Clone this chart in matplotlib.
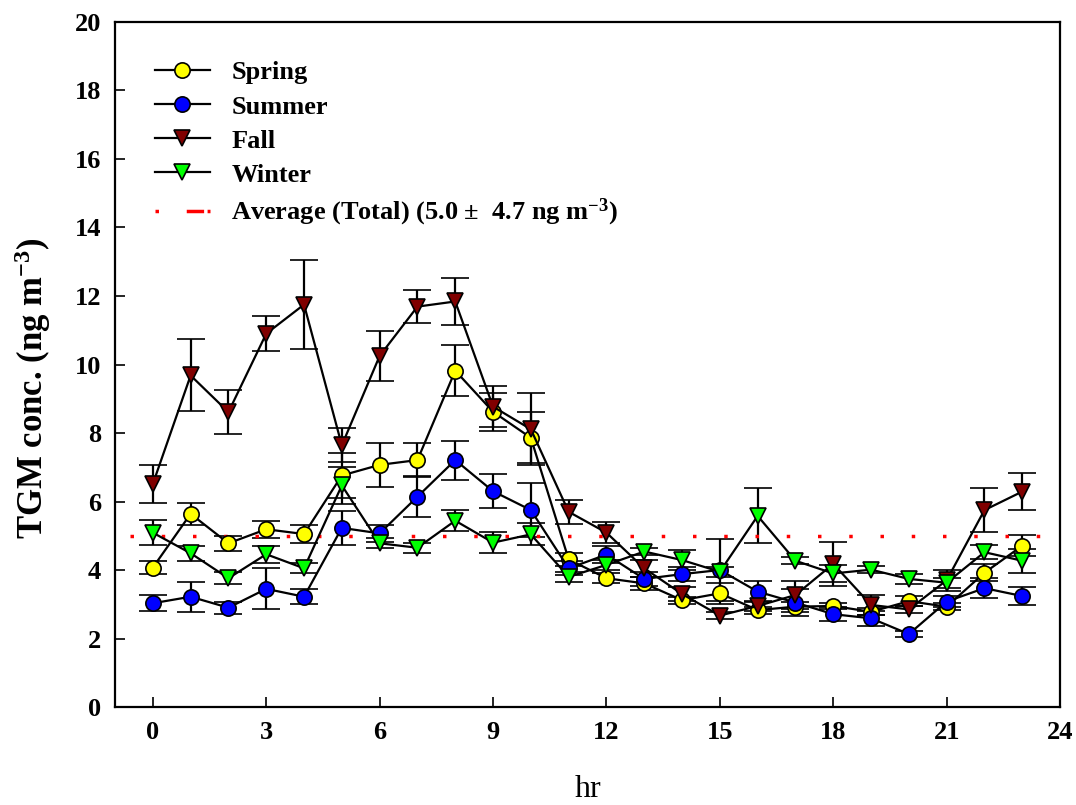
import numpy as np
import matplotlib
matplotlib.use('Agg')
import matplotlib.pyplot as plt
from matplotlib.lines import Line2D

plt.rcParams['font.family'] = ['Liberation Serif', 'DejaVu Serif']
plt.rcParams['mathtext.fontset'] = 'custom'
plt.rcParams['mathtext.rm'] = 'Liberation Serif:bold'
plt.rcParams['mathtext.bf'] = 'Liberation Serif:bold'
plt.rcParams['mathtext.default'] = 'rm'

hours = np.arange(24)

spring = [4.07, 5.64, 4.78, 5.19, 5.05, 6.76, 7.07, 7.21, 9.82, 8.62, 7.86, 4.31,
          3.76, 3.61, 3.12, 3.32, 2.83, 2.93, 2.95, 2.78, 3.09, 2.93, 3.92, 4.71]
spring_err = [0.2, 0.33, 0.22, 0.25, 0.25, 0.65, 0.64, 0.5, 0.75, 0.55, 0.75, 0.2,
              0.15, 0.2, 0.1, 0.3, 0.1, 0.15, 0.1, 0.1, 0.15, 0.1, 0.25, 0.3]

summer = [3.03, 3.22, 2.90, 3.45, 3.22, 5.23, 5.07, 6.14, 7.21, 6.30, 5.75, 4.05,
          4.45, 3.74, 3.88, 4.0, 3.37, 3.05, 2.71, 2.59, 2.13, 3.08, 3.47, 3.24]
summer_err = [0.23, 0.44, 0.17, 0.6, 0.22, 0.5, 0.25, 0.6, 0.57, 0.5, 0.8, 0.2,
              0.25, 0.2, 0.21, 0.9, 0.3, 0.4, 0.2, 0.22, 0.1, 0.15, 0.3, 0.27]

fall = [6.51, 9.68, 8.61, 10.90, 11.75, 7.64, 10.25, 11.69, 11.84, 8.77, 8.11, 5.70,
        5.09, 4.05, 3.30, 2.67, 2.95, 3.27, 4.18, 2.98, 2.85, 3.7, 5.75, 6.29]
fall_err = [0.55, 1.05, 0.65, 0.52, 1.3, 0.5, 0.72, 0.48, 0.7, 0.6, 1.05, 0.35,
            0.3, 0.25, 0.2, 0.1, 0.15, 0.4, 0.65, 0.3, 0.1, 0.3, 0.63, 0.55]

winter = [5.09, 4.49, 3.76, 4.46, 4.05, 6.47, 4.78, 4.65, 5.44, 4.80, 5.04, 3.80,
          4.15, 4.54, 4.29, 3.95, 5.58, 4.27, 3.90, 4.01, 3.74, 3.63, 4.52, 4.27]
winter_err = [0.37, 0.22, 0.18, 0.25, 0.15, 0.55, 0.15, 0.15, 0.3, 0.3, 0.32, 0.15,
              0.15, 0.1, 0.3, 0.15, 0.8, 0.1, 0.25, 0.1, 0.15, 0.15, 0.2, 0.35]

avg_total = 5.0
avg_label = r'Average (Total) (5.0 $\pm$  4.7 ng m$^{-3}$)'

fig = plt.figure(figsize=(10.76, 8.05), dpi=100)
ax = fig.add_axes([0.1069, 0.1217, 0.8783, 0.851])

series = [('Spring', spring, spring_err, 'o', '#ffff00'),
          ('Summer', summer, summer_err, 'o', '#0000ff'),
          ('Fall', fall, fall_err, 'v', '#800000'),
          ('Winter', winter, winter_err, 'v', '#00ff00')]

handles = []
for name, vals, err, mk, col in series:
    ms = 11 if mk == 'o' else 12
    ax.errorbar(hours, vals, yerr=err, fmt='-', color='k', lw=1.6,
                ecolor='k', elinewidth=1.6, capsize=10, capthick=1.6,
                marker=mk, markersize=ms,
                markerfacecolor=col, markeredgecolor='k', markeredgewidth=1.2)
    handles.append(Line2D([], [], color='k', lw=1.6, marker=mk, markersize=ms,
                          markerfacecolor=col, markeredgecolor='k',
                          markeredgewidth=1.2, label=name))

ax.plot([-0.6, 24], [avg_total, avg_total], color='red', lw=2.5,
        linestyle=(0, (1, 8)))
handles.append(Line2D([], [], color='red', lw=2.5,
                      linestyle=(0, (1, 8, 5, 1)), label=avg_label))

ax.set_xlim(-1, 24)
ax.set_ylim(0, 20)
ax.set_xticks(range(0, 25, 3))
ax.set_yticks(range(0, 21, 2))
ax.tick_params(direction='in', length=7, width=1.2, labelsize=19, pad=10)
for lab in ax.get_xticklabels() + ax.get_yticklabels():
    lab.set_fontweight('bold')
for sp in ax.spines.values():
    sp.set_linewidth(1.6)

ax.set_ylabel(r'TGM conc. (ng m$^{-3}$)', fontsize=25, fontweight='bold')
ax.yaxis.set_label_coords(-0.066, 0.466)
ax.set_xlabel('hr', fontsize=23, va='center')
ax.xaxis.set_label_coords(0.5, -0.121)

ax.legend(handles=handles, loc='upper left', frameon=False,
          prop={'size': 19, 'weight': 'bold'}, handlelength=2.1,
          handletextpad=0.8, labelspacing=0.4, borderpad=0,
          borderaxespad=0, bbox_to_anchor=(0.042, 0.943))

fig.savefig('out.png', dpi=100)
